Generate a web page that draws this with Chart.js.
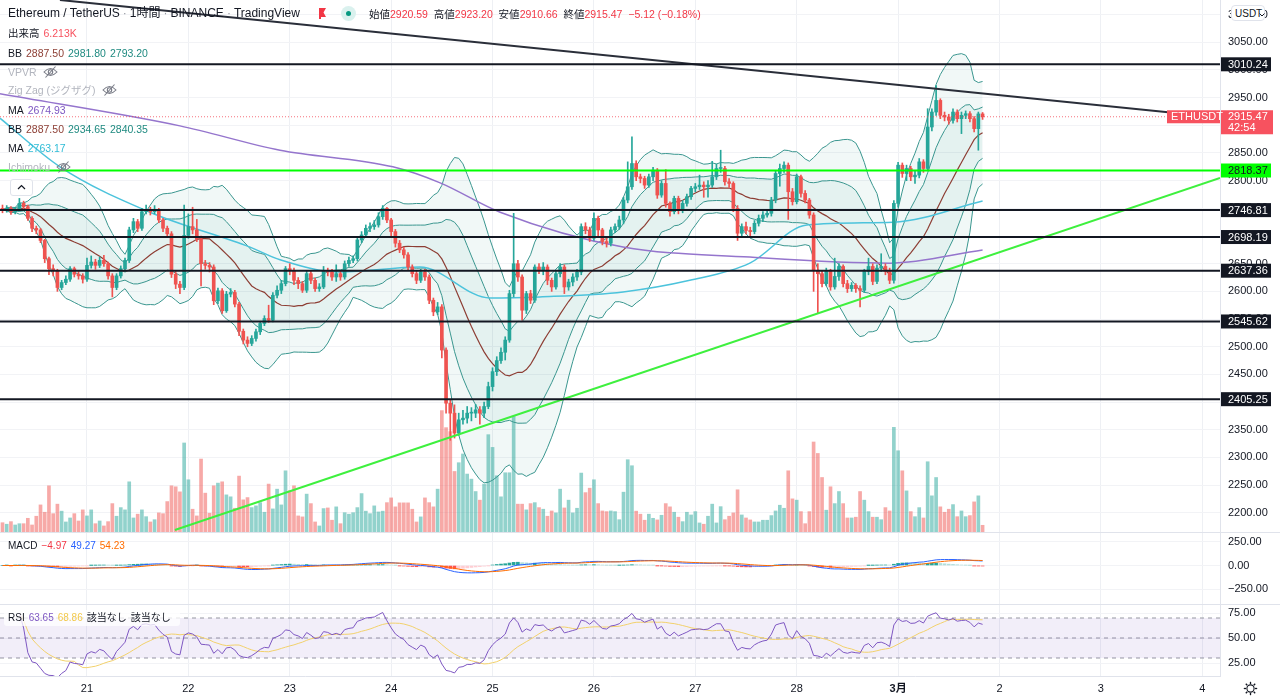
<!DOCTYPE html>
<html lang="ja">
<head>
<meta charset="utf-8">
<title>ETHUSDT 1時間</title>
<script src="https://cdn.jsdelivr.net/npm/chart.js@4.4.1/dist/chart.umd.min.js"></script>
<style>
  html, body { margin: 0; padding: 0; background: #fff; }
  body { width: 1280px; height: 700px; position: relative; overflow: hidden;
         font-family: "Liberation Sans", "Noto Sans CJK JP", sans-serif; color: #131722; }
  canvas { position: absolute; left: 0; }
  #main { top: 0; } #macd { top: 532px; } #rsi { top: 604px; }
  .row { position: absolute; left: 8px; font-size: 10.5px; line-height: 14px; white-space: nowrap; }
  .row span { margin-left: 4px; }
  .row .dt { color: #9598a1; margin: 0 3px; font-weight: normal; }
  .gray { color: #b2b5be; }
  .red { color: #f23645; font-weight: normal; }
  .sep { position: absolute; left: 0; width: 1280px; height: 1px; background: #e0e3eb; }
  .eye { vertical-align: -2px; margin-left: 6px; }
</style>
</head>
<body>
<canvas id="main" width="1280" height="532"></canvas>
<canvas id="macd" width="1280" height="72"></canvas>
<canvas id="rsi" width="1280" height="96"></canvas>
<div class="sep" style="top:532px"></div>
<div class="sep" style="top:604px"></div>

<div class="row" style="top:6px;font-size:12px;line-height:15px">Ethereum / TetherUS<b class="dt">·</b>1時間<b class="dt">·</b>BINANCE<b class="dt">·</b>TradingView</div>
<svg style="position:absolute;left:318px;top:8px" width="9" height="11"><path d="M1 0 H8 L5.5 4.5 L8 9 H3 V11 H1 Z" fill="#f23645"/></svg>
<div style="position:absolute;left:341px;top:6px;width:15px;height:15px;border-radius:50%;background:#daf1ee"><div style="position:absolute;left:5px;top:5px;width:5px;height:5px;border-radius:50%;background:#089981"></div></div>
<div class="row" style="left:369px;top:7px">始値<b class="red">2920.59</b>&nbsp; 高値<b class="red">2923.20</b>&nbsp; 安値<b class="red">2910.66</b>&nbsp; 終値<b class="red">2915.47</b>&nbsp; <b class="red">−5.12 (−0.18%)</b></div>
<div class="row" style="top:26px">出来高<span style="color:#f7525f">6.213K</span></div>
<div class="row" style="top:46px">BB<span style="color:#8d3e34">2887.50</span><span style="color:#1f8a80">2981.80</span><span style="color:#1f8a80">2793.20</span></div>
<div class="row gray" style="top:65px">VPVR<svg class="eye" width="15" height="12"><path d="M1 6 Q7.5 -1 14 6 Q7.5 13 1 6Z" fill="none" stroke="#787b86" stroke-width="1.1"/><circle cx="7.5" cy="6" r="2.2" fill="none" stroke="#787b86" stroke-width="1.1"/><line x1="2.5" y1="11.5" x2="12.5" y2="0.5" stroke="#787b86" stroke-width="1.1"/></svg></div>
<div class="row gray" style="top:83px">Zig Zag (ジグザグ)<svg class="eye" width="15" height="12"><path d="M1 6 Q7.5 -1 14 6 Q7.5 13 1 6Z" fill="none" stroke="#787b86" stroke-width="1.1"/><circle cx="7.5" cy="6" r="2.2" fill="none" stroke="#787b86" stroke-width="1.1"/><line x1="2.5" y1="11.5" x2="12.5" y2="0.5" stroke="#787b86" stroke-width="1.1"/></svg></div>
<div class="row" style="top:103px">MA<span style="color:#7e57c2">2674.93</span></div>
<div class="row" style="top:122px">BB<span style="color:#8d3e34">2887.50</span><span style="color:#1f8a80">2934.65</span><span style="color:#1f8a80">2840.35</span></div>
<div class="row" style="top:141px">MA<span style="color:#2fbcd6">2763.17</span></div>
<div class="row gray" style="top:160px">Ichimoku<svg class="eye" width="15" height="12"><path d="M1 6 Q7.5 -1 14 6 Q7.5 13 1 6Z" fill="none" stroke="#787b86" stroke-width="1.1"/><circle cx="7.5" cy="6" r="2.2" fill="none" stroke="#787b86" stroke-width="1.1"/><line x1="2.5" y1="11.5" x2="12.5" y2="0.5" stroke="#787b86" stroke-width="1.1"/></svg></div>
<div style="position:absolute;left:10px;top:179px;width:21px;height:15px;border:1px solid #e0e3eb;border-radius:3px;background:#fff"><svg style="position:absolute;left:6px;top:4px" width="9" height="6"><path d="M1 5 L4.5 1.5 L8 5" fill="none" stroke="#131722" stroke-width="1.2"/></svg></div>

<div class="row" style="top:539px;font-size:10px">MACD<span style="color:#f23645">−4.97</span><span style="color:#2962ff">49.27</span><span style="color:#ff6d00">54.23</span></div>
<div style="position:absolute;left:4px;top:610px;width:176px;height:16px;background:rgba(255,255,255,0.75);border-radius:3px"></div>
<div class="row" style="top:611px;font-size:10px">RSI<span style="color:#7e57c2">63.65</span><span style="color:#f2c94c">68.86</span><span>該当なし</span><span>該当なし</span></div>

<div style="position:absolute;left:1231px;top:5px;width:34px;height:16px;border:1px solid #e0e3eb;border-radius:4px;background:#fff;font-size:10px;line-height:16px;padding-left:3px;box-sizing:border-box">USDT<svg style="position:absolute;left:27px;top:7px" width="6" height="4"><path d="M0.5 0.5 L3 3 L5.5 0.5" fill="none" stroke="#131722" stroke-width="1"/></svg></div>
<svg style="position:absolute;left:1243px;top:681px" width="15" height="15" viewBox="0 0 15 15"><circle cx="7.5" cy="7.5" r="3.6" fill="none" stroke="#131722" stroke-width="1.1"/><g stroke="#131722" stroke-width="1.3"><line x1="7.5" y1="0.8" x2="7.5" y2="3"/><line x1="7.5" y1="12" x2="7.5" y2="14.2"/><line x1="0.8" y1="7.5" x2="3" y2="7.5"/><line x1="12" y1="7.5" x2="14.2" y2="7.5"/><line x1="2.8" y1="2.8" x2="4.3" y2="4.3"/><line x1="10.7" y1="10.7" x2="12.2" y2="12.2"/><line x1="2.8" y1="12.2" x2="4.3" y2="10.7"/><line x1="10.7" y1="4.3" x2="12.2" y2="2.8"/></g></svg>

<script>
// hourly candles, first one is Feb 20 04:00 (hour 4 counted from Feb 20 00:00)
const firstHour = 4;
const firstOpen = 2750;
const closes = [
  2747,2750,2744,2748,2759,2753,2732,2714,2711,2692,
  2659,2641,2638,2607,2616,2622,2641,2631,2628,2622,
  2647,2653,2647,2656,2650,2628,2607,2628,2641,2656,
  2711,2726,2714,2744,2748,2744,2747,2729,2714,2704,
  2631,2613,2607,2701,2717,2711,2695,2650,2647,2644,
  2583,2601,2565,2595,2598,2577,2528,2512,2506,2515,
  2527,2542,2551,2548,2593,2602,2614,2641,2638,2620,
  2614,2602,2632,2620,2605,2608,2638,2635,2626,2632,
  2626,2650,2656,2659,2693,2702,2714,2717,2720,2735,
  2750,2729,2708,2687,2675,2666,2644,2632,2620,2635,
  2626,2584,2563,2572,2494,2398,2380,2344,2368,2371,
  2380,2380,2386,2380,2392,2428,2455,2475,2490,2512,
  2596,2650,2626,2566,2596,2584,2644,2638,2644,2620,
  2608,2632,2644,2608,2617,2626,2635,2717,2711,2696,
  2732,2711,2690,2687,2711,2717,2729,2765,2789,2831,
  2807,2804,2792,2807,2819,2774,2795,2759,2744,2768,
  2747,2759,2771,2786,2789,2792,2789,2792,2807,2822,
  2822,2798,2795,2750,2705,2717,2710,2708,2723,2732,
  2738,2741,2765,2813,2822,2828,2780,2762,2807,2777,
  2765,2738,2638,2632,2614,2636,2608,2627,2645,2614,
  2605,2611,2605,2602,2636,2645,2618,2642,2645,2636,
  2620,2759,2828,2813,2822,2807,2810,2834,2822,2897,
  2924,2945,2918,2915,2909,2924,2912,2918,2921,2912,
  2894,2920.59,2915.47
];
const highs = [
  2756,2755,2753,2752,2768,2763,2756,2735,2718,2714,
  2694,2662,2648,2640,2620,2628,2645,2644,2636,2632,
  2660,2664,2658,2662,2665,2653,2632,2632,2646,2660,
  2716,2732,2730,2750,2756,2752,2755,2750,2732,2718,
  2708,2636,2618,2756,2740,2752,2730,2700,2656,2652,
  2648,2606,2605,2600,2605,2602,2580,2532,2518,2520,
  2532,2546,2556,2575,2598,2610,2620,2645,2650,2642,
  2625,2618,2638,2636,2624,2614,2645,2642,2640,2648,
  2636,2655,2662,2664,2698,2708,2720,2724,2728,2742,
  2755,2752,2732,2712,2692,2680,2670,2648,2638,2640,
  2640,2630,2588,2580,2576,2498,2405,2395,2380,2385,
  2392,2390,2396,2392,2400,2436,2462,2482,2498,2518,
  2602,2741,2656,2630,2600,2602,2648,2650,2652,2648,
  2624,2638,2650,2648,2622,2632,2640,2722,2724,2716,
  2742,2736,2714,2696,2716,2722,2736,2770,2834,2879,
  2836,2812,2808,2812,2824,2822,2800,2820,2762,2772,
  2772,2764,2776,2790,2795,2810,2798,2800,2835,2830,
  2855,2826,2804,2798,2755,2722,2725,2716,2728,2738,
  2744,2748,2770,2818,2830,2834,2832,2786,2812,2810,
  2782,2768,2742,2650,2638,2642,2640,2660,2650,2648,
  2620,2616,2614,2610,2640,2660,2650,2648,2668,2650,
  2642,2764,2833,2832,2828,2826,2818,2840,2838,2930,
  2930,2972,2948,2924,2920,2930,2928,2924,2926,2925,
  2916,2924,2923.2
];
const lows = [
  2742,2743,2739,2740,2745,2749,2728,2708,2704,2688,
  2652,2630,2628,2600,2603,2612,2618,2626,2622,2615,
  2618,2642,2640,2643,2645,2622,2590,2603,2624,2635,
  2652,2706,2708,2710,2740,2738,2740,2724,2708,2698,
  2625,2605,2596,2603,2696,2704,2690,2610,2640,2635,
  2576,2578,2560,2562,2590,2572,2520,2505,2500,2502,
  2510,2522,2538,2544,2545,2588,2596,2610,2630,2612,
  2605,2598,2598,2614,2600,2600,2605,2628,2620,2618,
  2620,2622,2645,2652,2655,2688,2698,2708,2712,2716,
  2730,2724,2700,2680,2670,2660,2638,2626,2614,2616,
  2620,2578,2556,2558,2480,2380,2331,2335,2340,2360,
  2362,2366,2372,2360,2372,2388,2420,2448,2470,2476,
  2508,2590,2618,2548,2560,2578,2580,2632,2630,2612,
  2600,2604,2626,2596,2602,2610,2620,2630,2704,2690,
  2692,2700,2684,2680,2682,2706,2712,2722,2760,2784,
  2800,2796,2786,2788,2800,2768,2770,2752,2736,2740,
  2740,2742,2754,2766,2780,2784,2770,2770,2788,2802,
  2815,2792,2788,2744,2692,2700,2704,2700,2704,2718,
  2726,2734,2736,2760,2790,2815,2730,2756,2758,2770,
  2760,2732,2600,2560,2608,2610,2602,2604,2620,2608,
  2598,2600,2598,2572,2598,2630,2612,2614,2636,2630,
  2614,2615,2752,2806,2800,2800,2795,2805,2815,2818,
  2890,2918,2912,2908,2902,2904,2906,2885,2912,2906,
  2888,2855,2910.66
];
// volume in thousands of ETH
const volumes = [
  8.6,7.2,9.6,6.5,7.7,7.7,12.7,6.5,14.6,25.1,
  18.3,42.8,17.0,25.8,19.3,9.3,13.0,17.0,10.2,20.5,
  14.9,20.5,7.7,10.2,5.6,9.6,26.3,14.6,22.6,20.5,
  46.5,13.0,16.5,20.5,14.2,9.3,11.4,17.7,17.0,28.2,
  42.8,41.9,37.2,82.5,48.4,21.1,14.9,67.6,36.0,17.4,
  42.8,45.3,46.5,34.4,32.6,22.0,51.8,29.8,31.9,22.6,
  24.2,27.2,18.3,44.4,21.4,39.7,25.1,56.7,38.1,42.8,
  14.9,14.0,35.1,26.3,9.3,5.6,21.7,22.3,10.9,23.3,
  7.7,17.9,16.5,17.9,22.6,35.6,19.3,17.0,24.2,18.6,
  19.3,27.2,31.6,23.3,27.0,27.0,27.0,21.1,9.3,14.0,
  31.6,27.2,23.3,39.7,112.5,96.7,93.0,56.1,64.2,72.3,
  53.7,49.0,37.5,29.5,44.4,90.2,78.4,52.1,32.6,54.9,
  54.9,107,25.8,25.8,20.5,26.3,27.2,22.6,21.1,14.6,
  19.5,17.7,39.7,22.3,29.5,17.7,22.0,54.6,36.5,40.6,
  48.4,26.3,19.5,18.9,19.5,18.9,11.4,36.9,67.0,61.4,
  19.3,16.5,10.9,16.5,12.7,11.2,15.5,26.3,23.3,18.3,
  13.7,9.6,18.3,15.8,18.9,8.4,7.2,14.6,25.8,8.4,
  23.5,11.4,14.6,17.7,39.1,15.8,13.0,11.2,9.3,9.3,
  10.9,10.9,15.2,19.5,24.8,22.0,56.7,30.7,29.5,18.9,
  7.7,18.9,83.4,72.8,50.5,20.2,41.9,26.3,37.5,26.3,
  13.0,13.0,13.7,37.5,29.5,18.9,13.7,13.7,11.4,22.6,
  19.5,97.0,75.3,56.7,38.1,18.9,14.2,22.6,13.0,65.1,
  33.5,50.5,23.3,18.3,21.1,25.4,14.2,19.5,14.2,15.2,
  27.9,33.5,6.213
];
// long moving averages (hour, value)
const ma200Hours  = [3.4, 46, 69.7, 96.4, 107.6, 121.8, 150.9, 180.9, 214.1, 236];
const ma200Values = [2957, 2899, 2855, 2825, 2796, 2743, 2680, 2662, 2651, 2674.93];
const ma100Hours  = [3.4, 17.6, 38.9, 62.6, 69.7, 83.9, 102.8, 119.4, 131.2, 150.9, 166.7, 180.9, 194.4, 214.8, 236];
const ma100Values = [2913, 2825, 2743, 2680, 2657, 2635, 2644, 2588, 2590, 2599, 2620, 2651, 2720, 2725, 2763.17];
// drawn levels and trend lines
const blackLevels = [3010.24, 2746.81, 2698.19, 2637.36, 2545.62, 2405.25];
const greenLevel = 2818.37;
const downTrend = [[17.6, 3126.4], [292.2, 2914.3]];
const upTrend = [[44.8, 2169], [292.2, 2805]];
const lastPrice = 2915.47;
const countdown = '42:54';
// axis ticks
const dayLabels = ['21', '22', '23', '24', '25', '26', '27', '28', '3月', '2', '3', '4'];
const macdTicks = [-250, 0, 250];
const rsiTicks = [25, 50, 75];

const xMin = 3.41, xMax = 292.2;
const fam = '"Liberation Sans","Noto Sans CJK JP",sans-serif';
Chart.defaults.font.family = fam;
Chart.defaults.animation = false;
Chart.defaults.events = [];
Chart.defaults.plugins.legend.display = false;
Chart.defaults.plugins.tooltip.enabled = false;

const GREEN = '#26a69a', RED = '#ef5350';
const hours = closes.map((c, i) => firstHour + i);
const opens = closes.map((c, i) => i === 0 ? firstOpen : closes[i - 1]);
const up = closes.map((c, i) => c >= opens[i]);
const series = vals => vals.map((v, i) => ({ x: hours[i], y: v }));
const pairs = (hs, vs) => hs.map((h, i) => ({ x: h, y: vs[i] }));

// bollinger bands 20, 1 and 2 sigma
const bbMid = [], bbUp1 = [], bbLo1 = [], bbUp2 = [], bbLo2 = [];
closes.forEach((c, i) => {
  const w = closes.slice(Math.max(0, i - 19), i + 1);
  const m = w.reduce((a, b) => a + b, 0) / w.length;
  const sd = Math.sqrt(w.reduce((a, b) => a + (b - m) * (b - m), 0) / w.length);
  bbMid.push(m); bbUp1.push(m + sd); bbLo1.push(m - sd); bbUp2.push(m + 2 * sd); bbLo2.push(m - 2 * sd);
});

// macd 12 26 9
function ema(arr, len) {
  const k = 2 / (len + 1), out = [];
  arr.forEach((v, i) => out.push(i === 0 ? v : out[i - 1] + k * (v - out[i - 1])));
  return out;
}
const e12 = ema(closes, 12), e26 = ema(closes, 26);
const macd = e12.map((v, i) => v - e26[i]);
const signal = ema(macd, 9);
const hist = macd.map((v, i) => v - signal[i]);
const histColors = hist.map((v, i) => {
  const prev = i > 0 ? hist[i - 1] : 0;
  if (v >= 0) return v >= prev ? '#26a69a' : '#b2dfdb';
  return v < prev ? '#ff5252' : '#ffcdd2';
});

// rsi 14 with 14 sma
const rsi = [null];
let ag = 0, al = 0;
for (let i = 1; i < closes.length; i++) {
  const ch = closes[i] - closes[i - 1];
  const g = Math.max(ch, 0), l = Math.max(-ch, 0);
  if (i <= 14) { ag = (ag * (i - 1) + g) / i; al = (al * (i - 1) + l) / i; }
  else { ag = (ag * 13 + g) / 14; al = (al * 13 + l) / 14; }
  rsi.push(i < 4 ? null : (al === 0 ? 100 : 100 - 100 / (1 + ag / al)));
}
const rsiMa = rsi.map((v, i) => {
  if (v === null) return null;
  const w = rsi.slice(Math.max(4, i - 13), i + 1);
  return w.reduce((a, b) => a + b, 0) / w.length;
});

function mkX(labels) {
  return {
    type: 'linear', min: xMin, max: xMax, offset: false,
    grid: { color: '#eef0f4', drawTicks: false, offset: false },
    border: { display: labels, color: '#e0e3eb' },
    ticks: {
      display: labels, stepSize: 24, includeBounds: false, autoSkip: false, maxRotation: 0, padding: 6,
      color: '#131722',
      font: c => ({ size: 11, weight: (c.tick && c.tick.value === 216) ? 'bold' : 'normal' }),
      callback: v => dayLabels[Math.round(v / 24) - 1] || ''
    },
    afterFit(s) { s.height = labels ? 24 : 0; s.paddingLeft = 0; s.paddingRight = 0; }
  };
}
function mkY(min, max, step, fmt, fixed) {
  const o = {
    position: 'right', min, max, offset: false,
    grid: { color: '#f2f3f6', drawTicks: false },
    border: { display: true, color: '#e0e3eb' },
    ticks: { stepSize: step, includeBounds: false, autoSkip: false, padding: 8, color: '#131722', font: { size: 11 }, callback: fmt },
    afterFit(s) { s.width = 60; s.paddingTop = 0; s.paddingBottom = 0; }
  };
  if (fixed) o.afterBuildTicks = s => { s.ticks = fixed.map(v => ({ value: v })); };
  return o;
}
const line = (data, color, width, extra) => Object.assign(
  { type: 'line', data, borderColor: color, borderWidth: width, pointRadius: 0, fill: false, tension: 0, spanGaps: false }, extra || {});

// main pane
const BAND = '#3a968f';
const mainSets = [];
mainSets.push({ type: 'bar', yAxisID: 'yv', data: series(volumes), grouped: false, barThickness: 3, order: 20,
  backgroundColor: up.map(u => u ? 'rgba(38,166,154,0.5)' : 'rgba(239,83,80,0.5)') });
const iUp2 = mainSets.length;
mainSets.push(line(series(bbUp2), BAND, 1, { order: 9, fill: { target: iUp2 + 1 }, backgroundColor: 'rgba(58,150,143,0.07)' }));
mainSets.push(line(series(bbLo2), BAND, 1, { order: 9 }));
const iUp1 = mainSets.length;
mainSets.push(line(series(bbUp1), BAND, 1, { order: 8, fill: { target: iUp1 + 1 }, backgroundColor: 'rgba(58,150,143,0.07)' }));
mainSets.push(line(series(bbLo1), BAND, 1, { order: 8 }));
mainSets.push(line(series(bbMid), '#8d3e34', 1.2, { order: 7 }));
mainSets.push(line(pairs(ma200Hours, ma200Values), '#9575cd', 1.5, { order: 6, cubicInterpolationMode: 'monotone' }));
mainSets.push(line(pairs(ma100Hours, ma100Values), '#4cc3dc', 1.5, { order: 6, cubicInterpolationMode: 'monotone' }));
mainSets.push({ type: 'bar', data: hours.map((h, i) => ({ x: h, y: [lows[i], highs[i]] })), grouped: false, barThickness: 1, order: 3,
  backgroundColor: up.map(u => u ? GREEN : RED) });
mainSets.push({ type: 'bar', data: hours.map((h, i) => ({ x: h, y: [opens[i], closes[i]] })), grouped: false, barThickness: 3, minBarLength: 1, order: 2,
  backgroundColor: up.map(u => u ? GREEN : RED) });
mainSets.push(line([{ x: xMin, y: lastPrice }, { x: 280.4, y: lastPrice }], 'rgba(242,54,69,0.7)', 1, { order: 1, borderDash: [1, 2] }));
blackLevels.forEach(v => mainSets.push(line([{ x: xMin, y: v }, { x: xMax, y: v }], '#131722', 2, { order: 1 })));
mainSets.push(line([{ x: xMin, y: greenLevel }, { x: xMax, y: greenLevel }], '#00ff00', 2, { order: 1 }));
mainSets.push(line(downTrend.map(p => ({ x: p[0], y: p[1] })), '#2a2e39', 2, { order: 1 }));
mainSets.push(line(upTrend.map(p => ({ x: p[0], y: p[1] })), '#3ef03e', 2, { order: 1 }));

const priceTags = {
  id: 'priceTags',
  afterDraw(chart) {
    const ctx = chart.ctx, y = chart.scales.y, r = chart.chartArea.right;
    ctx.save();
    ctx.font = '11px ' + fam;
    ctx.textBaseline = 'middle';
    const tag = (v, bg, fg) => {
      const py = y.getPixelForValue(v);
      ctx.fillStyle = bg; ctx.fillRect(r + 1, py - 7, 50, 14);
      ctx.fillStyle = fg; ctx.fillText(v.toFixed(2), r + 8, py + 0.5);
    };
    blackLevels.forEach(v => tag(v, '#131722', '#ffffff'));
    tag(greenLevel, '#00ff00', '#131722');
    const py = y.getPixelForValue(lastPrice);
    ctx.fillStyle = '#f7525f';
    ctx.fillRect(r + 1, py - 6.5, 52, 24);
    ctx.fillRect(r - 53, py - 6.5, 53, 13);
    ctx.fillStyle = '#ffffff';
    ctx.fillText(lastPrice.toFixed(2), r + 8, py + 0.5);
    ctx.fillText(countdown, r + 8, py + 11.5);
    ctx.fillText('ETHUSDT', r - 49, py + 0.5);
    ctx.restore();
  }
};

new Chart(document.getElementById('main'), {
  type: 'line',
  data: { datasets: mainSets },
  options: {
    responsive: false, maintainAspectRatio: false,
    layout: { padding: 0 },
    scales: {
      x: mkX(false),
      y: mkY(2165.3, 3126.4, 50, v => v.toFixed(2)),
      yv: { display: false, min: 0, max: 493 }
    }
  },
  plugins: [priceTags]
});

// macd pane
new Chart(document.getElementById('macd'), {
  type: 'line',
  data: { datasets: [
    { type: 'bar', data: series(hist), grouped: false, barThickness: 3, backgroundColor: histColors, order: 5 },
    line(series(macd), '#2962ff', 1, { order: 2 }),
    line(series(signal), '#ff6d00', 1, { order: 1 })
  ] },
  options: {
    responsive: false, maintainAspectRatio: false,
    scales: {
      x: mkX(false),
      y: mkY(-408.6, 355.7, 250, v => (v < 0 ? '−' : '') + Math.abs(v).toFixed(2), macdTicks)
    }
  }
});

// rsi pane
const bandLine = v => [{ x: xMin, y: v }, { x: xMax, y: v }];
new Chart(document.getElementById('rsi'), {
  type: 'line',
  data: { datasets: [
    line(bandLine(70), '#9598a1', 1, { borderDash: [4, 4], fill: { target: 1 }, backgroundColor: 'rgba(126,87,194,0.1)', order: 5 }),
    line(bandLine(30), '#9598a1', 1, { borderDash: [4, 4], order: 5 }),
    line(bandLine(50), '#9598a1', 1, { borderDash: [4, 4], order: 5 }),
    line(series(rsiMa), '#f2d16b', 1, { order: 2 }),
    line(series(rsi), '#7e57c2', 1, { order: 1 })
  ] },
  options: {
    responsive: false, maintainAspectRatio: false,
    scales: {
      x: mkX(true),
      y: mkY(12, 84, 25, v => v.toFixed(2), rsiTicks)
    }
  }
});
</script>
</body>
</html>
